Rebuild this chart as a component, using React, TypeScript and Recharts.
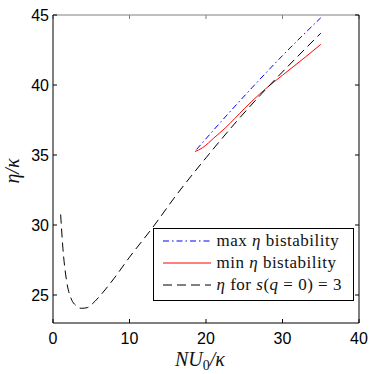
import { LineChart, Line, XAxis, YAxis, Legend } from "recharts";

// eta for s(q=0)=3 (black dashed)
const sX = [1, 1.3, 1.75, 2.4, 3, 3.7, 4.5, 5, 6, 7, 8, 10, 13, 16, 20, 24, 28, 32, 35];
const sY = [30.75, 28.3, 26.1, 24.7, 24.25, 24.05, 24.1, 24.3, 24.85, 25.5, 26.2, 27.7, 29.8, 32.05, 34.8, 37.4, 39.8, 42.05, 43.7];

// max eta bistability (blue dash-dot)
const maxX = [18.77, 22, 26, 30, 35];
const maxY = [35.4, 37.4, 39.8, 42.1, 44.8];

// min eta bistability (red solid)
const minX = [18.55, 19.5, 20.3, 21, 22.5, 25, 27, 30, 33, 35];
const minY = [35.25, 35.5, 35.85, 36.2, 36.92, 38.3, 39.35, 40.7, 42.0, 42.9];

const xTicks = [0, 10, 20, 30, 40];
const yTicks = [25, 30, 35, 40, 45];

const toPoints = (xs: number[], ys: number[]) => xs.map((x, i) => ({ x, y: ys[i] }));

const sData = toPoints(sX, sY);
const maxData = toPoints(maxX, maxY);
const minData = toPoints(minX, minY);

const serif = "'Liberation Serif', 'Times New Roman', serif";
const sans = "'Liberation Sans', Arial, sans-serif";

function LegendBox({ payload }: any) {
  const labels: Record<string, any> = {
    max: (
      <>
        max <i>η</i> bistability
      </>
    ),
    min: (
      <>
        min <i>η</i> bistability
      </>
    ),
    s: (
      <>
        <i>η</i> for <i>s</i>(<i>q</i> = 0) = 3
      </>
    ),
  };
  return (
    <div style={{ position: "relative", width: "100%", height: "100%" }}>
      {(payload || []).map((p: any, i: number) => (
        <div
          key={p.dataKey + p.value}
          style={{
            position: "absolute",
            left: 8,
            top: 1 + i * 22,
            height: 22,
            display: "flex",
            alignItems: "center",
            whiteSpace: "nowrap",
          }}
        >
          <svg width={50} height={10}>
            <line
              x1={1}
              y1={5}
              x2={49}
              y2={5}
              stroke={p.color}
              strokeWidth={1}
              strokeDasharray={p.payload?.strokeDasharray}
            />
          </svg>
          <span style={{ marginLeft: 5, fontFamily: serif, fontSize: 17, letterSpacing: 0.5, color: "#111" }}>
            {labels[p.value]}
          </span>
        </div>
      ))}
    </div>
  );
}

export default function App() {
  return (
    <div style={{ position: "absolute", left: 0, top: 0, width: 374, height: 374, background: "#fff" }}>
      <LineChart width={374} height={374} margin={{ top: 15, right: 15, bottom: 0, left: 0 }}>
        <XAxis
          xAxisId="bottom"
          type="number"
          dataKey="x"
          domain={[0, 40]}
          ticks={xTicks}
          orientation="bottom"
          height={51}
          tickSize={-4}
          tickMargin={14}
          stroke="#000"
          tick={{ fill: "#000", fontSize: 16, fontFamily: sans }}
          allowDataOverflow
          label={() => (
            <text x={200} y={366} textAnchor="middle" fontFamily={serif} fontStyle="italic" fontSize={20} fill="#111">
              NU
              <tspan fontStyle="normal" fontSize={14} dy={4}>0</tspan>
              <tspan dy={-4}>/κ</tspan>
            </text>
          )}
        />
        <XAxis
          xAxisId="top"
          type="number"
          dataKey="x"
          domain={[0, 40]}
          ticks={xTicks}
          orientation="top"
          mirror
          tickSize={4}
          stroke="#808080"
          tickFormatter={() => ""}
          allowDataOverflow
        />
        <YAxis
          yAxisId="left"
          type="number"
          domain={[23, 45]}
          ticks={yTicks}
          width={53}
          tickSize={-4}
          tickMargin={8}
          stroke="#000"
          tick={{ fill: "#000", fontSize: 16, fontFamily: sans }}
          allowDataOverflow
          label={() => (
            <text
              x={18.5}
              y={171}
              transform="rotate(-90 18.5 171)"
              textAnchor="middle"
              fontFamily={serif}
              fontStyle="italic"
              fontSize={20}
              fill="#111"
            >
              η/κ
            </text>
          )}
        />
        <YAxis
          yAxisId="right"
          orientation="right"
          type="number"
          domain={[23, 45]}
          ticks={yTicks}
          mirror
          tickSize={4}
          stroke="#000"
          tickFormatter={() => ""}
          allowDataOverflow
        />
        <Legend
          layout="vertical"
          align="center"
          verticalAlign="middle"
          content={<LegendBox />}
          wrapperStyle={{
            left: 152.5,
            top: 227.5,
            width: 201,
            height: 73,
            border: "1px solid #000",
            background: "#fff",
            boxSizing: "border-box",
          }}
        />
        <Line
          name="max"
          data={maxData}
          dataKey="y"
          xAxisId="bottom"
          yAxisId="left"
          type="monotone"
          stroke="#0000ff"
          strokeWidth={1}
          strokeDasharray="6 3 1.5 3"
          dot={false}
          isAnimationActive={false}
        />
        <Line
          name="min"
          data={minData}
          dataKey="y"
          xAxisId="bottom"
          yAxisId="left"
          type="monotone"
          stroke="#ff0000"
          strokeWidth={1}
          dot={false}
          isAnimationActive={false}
        />
        <Line
          name="s"
          data={sData}
          dataKey="y"
          xAxisId="bottom"
          yAxisId="left"
          type="monotone"
          stroke="#000"
          strokeWidth={1}
          strokeDasharray="9 5"
          dot={false}
          isAnimationActive={false}
        />
      </LineChart>
    </div>
  );
}
